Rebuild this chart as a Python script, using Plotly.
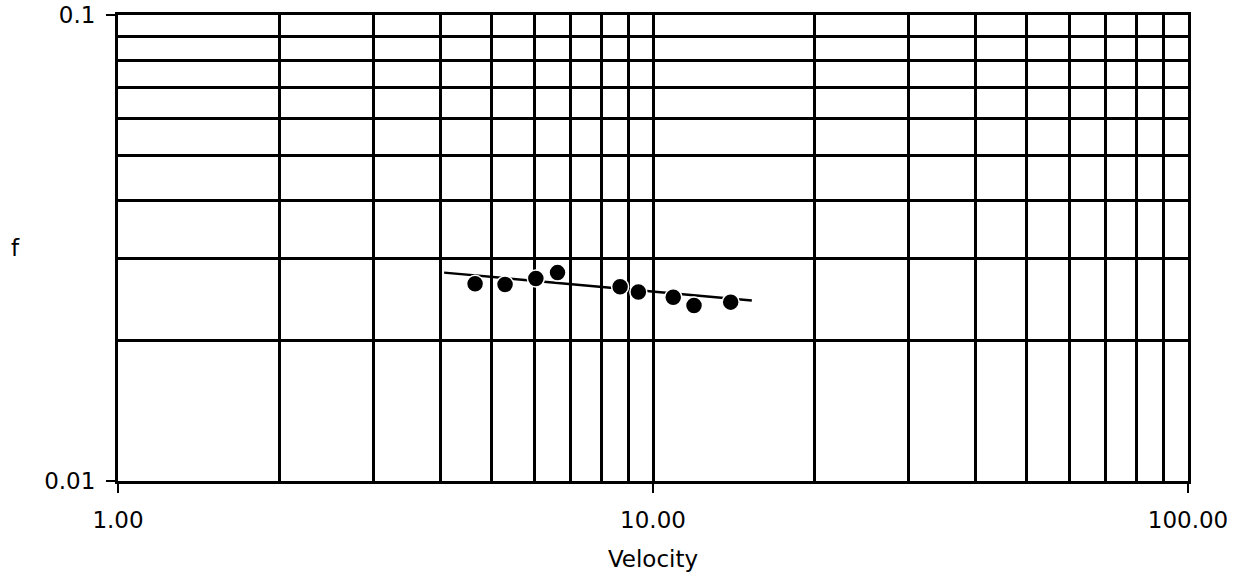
import plotly.graph_objects as go

# Data
velocity = [4.65, 5.29, 6.04, 6.63, 8.68, 9.39, 10.91, 11.93, 13.97]
friction = [0.0265, 0.0264, 0.0272, 0.0280, 0.0261, 0.02545, 0.0248, 0.0238, 0.0242]
fit_x = [4.07, 15.3]
fit_y = [0.0280, 0.0244]

x_major = [1, 10, 100]
x_major_text = ["1.00", "10.00", "100.00"]
x_minor = [2, 3, 4, 5, 6, 7, 8, 9, 20, 30, 40, 50, 60, 70, 80, 90]
y_major = [0.01, 0.1]
y_major_text = ["0.01", "0.1"]
y_minor = [0.02, 0.03, 0.04, 0.05, 0.06, 0.07, 0.08, 0.09]

FONT = "DejaVu Sans"
FS = 23

fig = go.Figure()
fig.add_trace(go.Scatter(x=fit_x, y=fit_y, mode="lines",
                         line=dict(color="black", width=2.5), showlegend=False))
fig.add_trace(go.Scatter(x=velocity, y=friction, mode="markers",
                         marker=dict(color="black", size=17, line=dict(color="white", width=1.5)),
                         showlegend=False))

fig.update_layout(
    width=1243, height=577,
    margin=dict(l=118, r=55, t=15, b=96, autoexpand=False),
    paper_bgcolor="white", plot_bgcolor="white",
    font=dict(family=FONT, size=FS, color="black"),
    showlegend=False,
)
fig.update_xaxes(
    type="log", range=[0, 2], automargin=False,
    tickvals=x_major, ticktext=x_major_text,
    ticks="outside", ticklen=9, tickwidth=2, tickcolor="black",
    ticklabelstandoff=8, ticklabeloverflow="allow",
    showgrid=True, gridcolor="black", gridwidth=2.5,
    minor=dict(tickvals=x_minor, showgrid=True, gridcolor="black", gridwidth=2.5, ticks=""),
    showline=True, linecolor="black", linewidth=2.5, mirror=True,
    zeroline=False,
    tickfont=dict(family=FONT, size=FS),
    title=dict(text="Velocity", font=dict(family=FONT, size=FS), standoff=19),
)
fig.update_yaxes(
    type="log", range=[-2, -1], automargin=False,
    tickvals=y_major, ticktext=y_major_text,
    ticks="outside", ticklen=9, tickwidth=2, tickcolor="black",
    ticklabelstandoff=6, ticklabeloverflow="allow",
    showgrid=True, gridcolor="black", gridwidth=2.5,
    minor=dict(tickvals=y_minor, showgrid=True, gridcolor="black", gridwidth=2.5, ticks=""),
    showline=True, linecolor="black", linewidth=3, mirror=True,
    zeroline=False,
    tickfont=dict(family=FONT, size=FS),
)
fig.add_annotation(text="f", xref="paper", yref="paper", x=-0.0955, y=0.5,
                   xanchor="center", yanchor="middle", showarrow=False,
                   font=dict(family=FONT, size=FS, color="black"))

fig.write_html("out.html", config={"displayModeBar": False},
               post_script="document.body.style.margin='0';")
